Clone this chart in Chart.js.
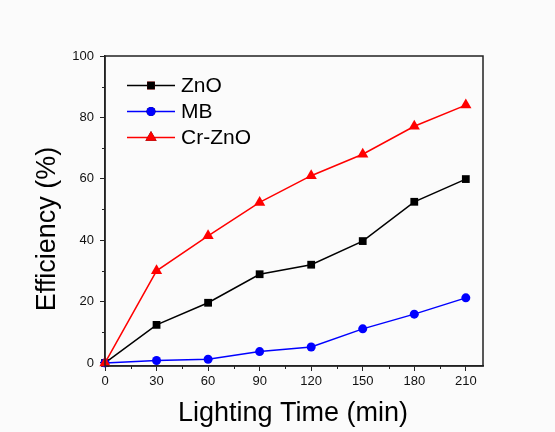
<!DOCTYPE html>
<html>
<head>
<meta charset="utf-8">
<script src="https://cdn.jsdelivr.net/npm/chart.js@4/dist/chart.umd.min.js"></script>
<style>
  html, body { margin: 0; padding: 0; background: #fbfbfb; }
  #wrap { width: 555px; height: 432px; }
</style>
</head>
<body>
<div id="wrap"><canvas id="c" width="555" height="432"></canvas></div>
<script>
const times = [0, 30, 60, 90, 120, 150, 180, 210];
const zno = [0, 12.4, 19.6, 28.9, 32.0, 39.7, 52.5, 59.9];
const mb = [0, 0.8, 1.2, 3.7, 5.2, 11.1, 15.9, 21.2];
const crZno = [0, 30.0, 41.4, 52.3, 61.0, 68.0, 77.1, 84.0];
const seriesNames = ['ZnO', 'MB', 'Cr-ZnO'];
const xTicks = [0, 30, 60, 90, 120, 150, 180, 210];
const yTicks = [0, 20, 40, 60, 80, 100];
const xMinor = [15, 45, 75, 105, 135, 165, 195];
const yMinor = [10, 30, 50, 70, 90];
const xTitle = 'Lighting Time (min)';
const yTitle = 'Efficiency (%)';

const FONT = "Arial, 'Liberation Sans', sans-serif";
const colors = ['#000000', '#0000ff', '#ff0000'];
const styles = ['rect', 'circle', 'triangle'];
const radii = [5.5, 4.5, 6.5];
const seriesData = [zno, mb, crZno];

const datasets = seriesData.map((arr, i) => ({
  label: seriesNames[i],
  data: times.map((t, j) => ({ x: t, y: arr[j] })),
  borderColor: colors[i],
  backgroundColor: colors[i],
  borderWidth: 1.5,
  pointStyle: styles[i],
  pointRadius: radii[i],
  pointBorderWidth: 0,
  pointBackgroundColor: colors[i],
  clip: false,
  order: [3, 2, 1][i]
}));

const extras = {
  id: 'extras',
  afterDraw(chart) {
    const ctx = chart.ctx;
    const a = chart.chartArea;
    const xs = chart.scales.x, ys = chart.scales.y;
    ctx.save();
    // frame
    ctx.strokeStyle = '#222';
    ctx.lineWidth = 1.5;
    ctx.strokeRect(a.left, a.top, a.right - a.left, a.bottom - a.top);
    // minor ticks
    ctx.lineWidth = 1;
    ctx.beginPath();
    xMinor.forEach(v => {
      const px = Math.round(xs.getPixelForValue(v)) + 0.5;
      ctx.moveTo(px, a.bottom);
      ctx.lineTo(px, a.bottom + 3);
    });
    yMinor.forEach(v => {
      const py = Math.round(ys.getPixelForValue(v)) + 0.5;
      ctx.moveTo(a.left, py);
      ctx.lineTo(a.left - 3, py);
    });
    ctx.stroke();
    // legend
    ctx.font = '21px ' + FONT;
    ctx.textBaseline = 'middle';
    ctx.textAlign = 'left';
    datasets.forEach((d, i) => {
      const y = a.top + 29.5 + i * 26;
      const x0 = a.left + 22, x1 = a.left + 70;
      ctx.strokeStyle = colors[i];
      ctx.lineWidth = 1.5;
      ctx.beginPath();
      ctx.moveTo(x0, y);
      ctx.lineTo(x1, y);
      ctx.stroke();
      Chart.helpers.drawPoint(ctx, {
        pointStyle: styles[i], radius: radii[i], borderWidth: 0, rotation: 0
      }, (x0 + x1) / 2, y);
      ctx.fillStyle = colors[i];
      ctx.fill();
      ctx.fillStyle = '#000';
      ctx.fillText(d.label, a.left + 76, y + 1);
    });
    // axis titles
    ctx.fillStyle = '#000';
    ctx.font = '27px ' + FONT;
    ctx.textAlign = 'center';
    ctx.textBaseline = 'alphabetic';
    ctx.fillText(xTitle, (a.left + a.right) / 2 - 1, 421);
    ctx.translate(55, 229);
    ctx.rotate(-Math.PI / 2);
    ctx.font = '27px ' + FONT;
    ctx.fillText(yTitle, 0, 0);
    ctx.restore();
  }
};

new Chart(document.getElementById('c'), {
  type: 'line',
  data: { datasets },
  options: {
    responsive: false,
    animation: false,
    devicePixelRatio: 1,
    layout: { padding: { left: 0, top: 56, right: 72, bottom: 0 } },
    plugins: { legend: { display: false }, tooltip: { enabled: false } },
    scales: {
      x: {
        type: 'linear',
        min: 0, max: 220,
        afterBuildTicks: s => { s.ticks = xTicks.map(v => ({ value: v })); },
        afterFit: s => { s.height = 66; },
        grid: { drawOnChartArea: false, drawTicks: true, tickLength: 5, color: '#222', tickColor: '#222' },
        border: { display: true, color: '#222', width: 1.5 },
        ticks: { font: { family: FONT, size: 13 }, color: '#111', padding: 3, maxRotation: 0 }
      },
      y: {
        type: 'linear',
        min: -1, max: 100,
        afterBuildTicks: s => { s.ticks = yTicks.map(v => ({ value: v })); },
        afterFit: s => { s.width = 105; },
        grid: { drawOnChartArea: false, drawTicks: true, tickLength: 5, color: '#222', tickColor: '#222' },
        border: { display: true, color: '#222', width: 1.5 },
        ticks: { font: { family: FONT, size: 13 }, color: '#111', padding: 6 }
      }
    }
  },
  plugins: [extras]
});
</script>
</body>
</html>
